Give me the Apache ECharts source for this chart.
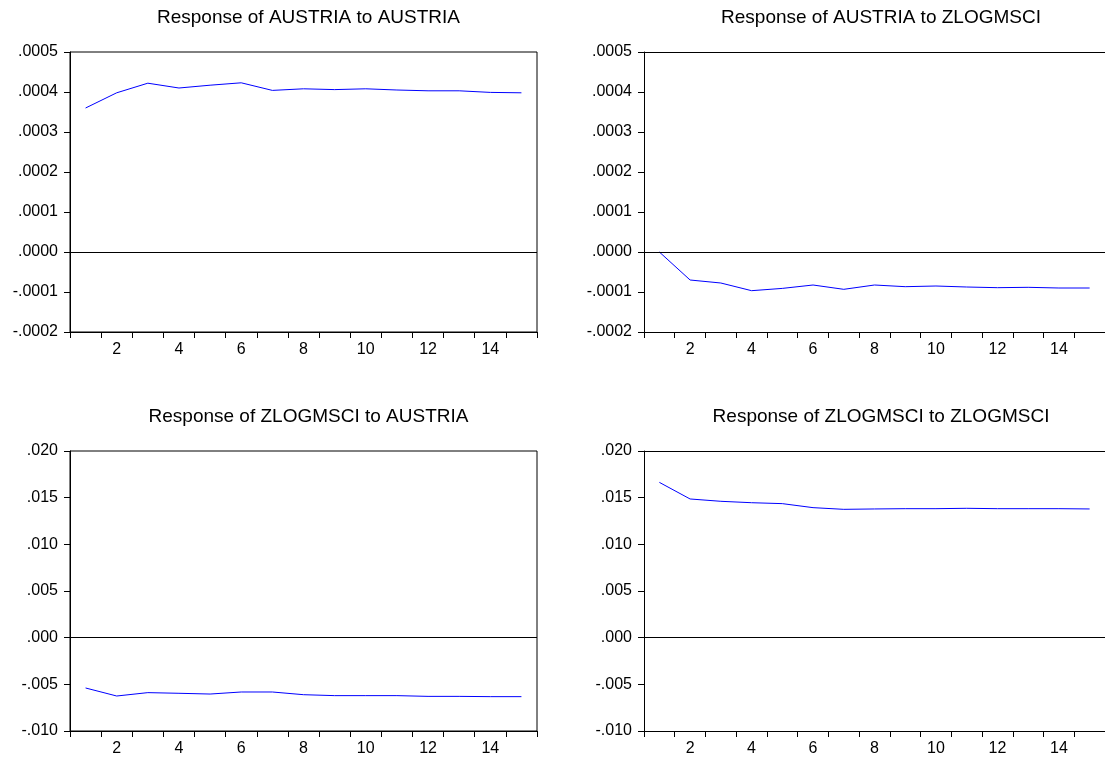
<!DOCTYPE html>
<html>
<head>
<meta charset="utf-8">
<script src="https://cdn.jsdelivr.net/npm/echarts@6/dist/echarts.min.js"></script>
<style>
html,body{margin:0;padding:0;background:#fff;}
#chart{width:1105px;height:758px;}
</style>
</head>
<body>
<div id="chart"></div>
<script>
// Periods (x categories)
const periods = ['1','2','3','4','5','6','7','8','9','10','11','12','13','14','15'];

// Panel titles
const titles = [
  'Response of AUSTRIA to AUSTRIA',
  'Response of AUSTRIA to ZLOGMSCI',
  'Response of ZLOGMSCI to AUSTRIA',
  'Response of ZLOGMSCI to ZLOGMSCI'
];

// Series values
const austriaToAustria = [0.000360, 0.000398, 0.000422, 0.000410, 0.000417, 0.000423, 0.000404, 0.000408, 0.000406, 0.000408, 0.000405, 0.000403, 0.000403, 0.000399, 0.000398];
const austriaToZlogmsci = [0.0, -0.0000700, -0.0000775, -0.0000967, -0.0000910, -0.0000825, -0.0000933, -0.0000825, -0.0000867, -0.0000850, -0.0000875, -0.0000892, -0.0000883, -0.0000900, -0.0000900];
const zlogmsciToAustria = [-0.00539, -0.00625, -0.00589, -0.00596, -0.00604, -0.00582, -0.00582, -0.00611, -0.00621, -0.00621, -0.00621, -0.00629, -0.00629, -0.00632, -0.00632];
const zlogmsciToZlogmsci = [0.01664, 0.01486, 0.01461, 0.01446, 0.01436, 0.01393, 0.01375, 0.01379, 0.01382, 0.01382, 0.01386, 0.01382, 0.01382, 0.01382, 0.01379];

// Y-axis ranges [min, max, interval, decimals]
const topAxis = [-0.0002, 0.0005, 0.0001, 4];
const bottomAxis = [-0.010, 0.020, 0.005, 3];

const seriesData = [austriaToAustria, austriaToZlogmsci, zlogmsciToAustria, zlogmsciToZlogmsci];
const axesCfg = [topAxis, topAxis, bottomAxis, bottomAxis];

const grids = [
  {left: 70, top: 52, width: 467, height: 280},
  {left: 644, top: 52, width: 464, height: 280},
  {left: 70, top: 451, width: 467, height: 280},
  {left: 644, top: 451, width: 464, height: 280}
];
// right-hand panels are cut off by the image edge: no right border
const cropped = [false, true, false, true];

const FONT = 'Arial, "Liberation Sans", sans-serif';

function fmt(v, d) {
  if (Math.abs(v) < 1e-12) v = 0;
  return v.toFixed(d).replace(/^(-?)0\./, '$1.');
}

const xAxes = [];
grids.forEach((g, i) => {
  xAxes.push({
    type: 'category',
    gridIndex: i,
    data: periods,
    boundaryGap: true,
    axisLine: {show: true, onZero: false, lineStyle: {color: '#000', width: 1}},
    axisTick: {show: true, interval: 0, length: 6, inside: false, lineStyle: {color: '#000'}},
    axisLabel: {
      interval: (idx) => idx % 2 === 1,
      margin: 10,
      fontFamily: FONT, fontSize: 16, color: '#000'
    },
    splitLine: {show: false}
  });
});
// top border lines for the cropped panels
grids.forEach((g, i) => {
  if (cropped[i]) {
    xAxes.push({
      type: 'category',
      gridIndex: i,
      position: 'top',
      data: periods,
      boundaryGap: true,
      axisLine: {show: true, onZero: false, lineStyle: {color: '#000', width: 1}},
      axisTick: {show: false},
      axisLabel: {show: false},
      splitLine: {show: false}
    });
  }
});

const option = {
  animation: false,
  backgroundColor: '#fff',
  title: grids.map((g, i) => ({
    text: titles[i],
    left: g.left + g.width / 2,
    top: g.top - 49,
    textAlign: 'center',
    textStyle: {fontFamily: FONT, fontSize: 19, fontWeight: 'normal', color: '#000'}
  })),
  grid: grids.map((g, i) => Object.assign({show: !cropped[i], borderColor: '#000', borderWidth: 1, backgroundColor: 'transparent'}, g)),
  xAxis: xAxes,
  yAxis: grids.map((g, i) => {
    const c = axesCfg[i];
    return {
      type: 'value',
      gridIndex: i,
      min: c[0], max: c[1], interval: c[2],
      axisLine: {show: true, lineStyle: {color: '#000', width: 1}},
      axisTick: {show: true, length: 6, inside: false, lineStyle: {color: '#000'}},
      axisLabel: {
        margin: 12,
        fontFamily: FONT, fontSize: 16, color: '#000',
        formatter: (v) => fmt(v, c[3])
      },
      splitLine: {show: false}
    };
  }),
  series: seriesData.map((d, i) => ({
    type: 'line',
    xAxisIndex: i,
    yAxisIndex: i,
    data: d,
    symbol: 'none',
    lineStyle: {color: '#0000ff', width: 1},
    itemStyle: {color: '#0000ff'},
    silent: true,
    markLine: {
      silent: true,
      symbol: ['none', 'none'],
      label: {show: false},
      lineStyle: {color: '#000', width: 1, type: 'solid'},
      data: [{yAxis: 0}]
    }
  }))
};

const chart = echarts.init(document.getElementById('chart'), null, {renderer: 'canvas'});
chart.setOption(option);
</script>
</body>
</html>
